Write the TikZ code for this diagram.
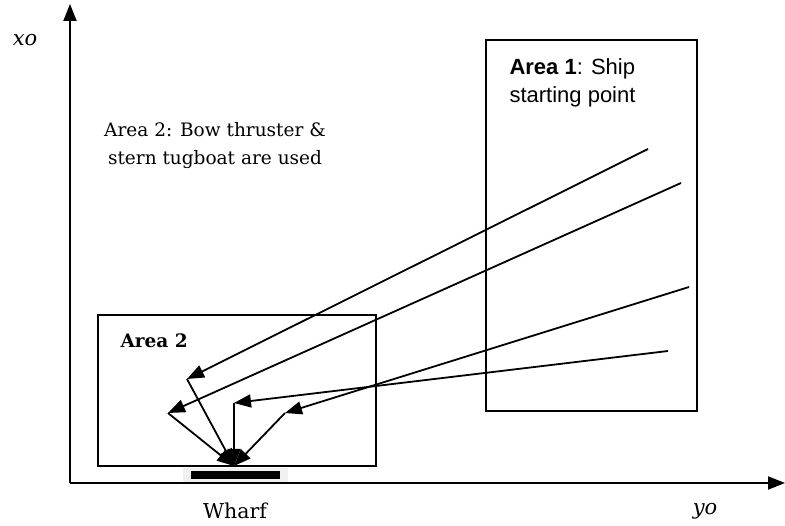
\documentclass[tikz,border=0pt]{standalone}
\usepackage{fontspec}
\setmainfont{DejaVu Serif}
\setsansfont{Liberation Sans}
\usetikzlibrary{arrows.meta}
\begin{document}
\begin{tikzpicture}[x=1pt,y=-1pt,
  frame/.style={draw=black, line width=1.6pt},
  axis/.style={line width=1.8pt, -{Triangle[length=17pt,width=13pt]}},
  traj/.style={line width=1.8pt, -{Triangle[length=17pt,width=13pt]}},
  serif/.style={font=\fontsize{18.5}{28}\selectfont\rmfamily},
  axislabel/.style={font=\fontsize{21}{24}\selectfont\rmfamily\itshape},
  sans/.style={font=\fontsize{22}{28}\selectfont\sffamily}]
\useasboundingbox (0,0) rectangle (785,526);

% wharf plate
\fill[gray!12] (183,468) rectangle (288,483);
\fill[black] (191,471) rectangle (280,479);

% axes
\coordinate (o) at (70,483);
\coordinate (xtop) at (70,4);
\coordinate (yend) at (785,483);
\draw[axis] (o) -- (xtop);
\draw[axis] (o) -- (yend);
\node[axislabel] (xo) at (25,40) {xo};
\node[axislabel] (yo) at (705,511) {yo};
\node[font=\fontsize{20.5}{24}\selectfont\rmfamily] (wharf) at (235,511) {Wharf};

% areas
\draw[frame] (98,315) rectangle (376,466);
\draw[frame] (486,40) rectangle (697,411);
\node[font=\fontsize{18.5}{22}\selectfont\rmfamily\bfseries, anchor=west] (a2) at (117,341) {Area 2};
\node[sans, anchor=north west, align=left] (a1) at (506,55) {\textbf{Area 1}: Ship\\starting point};
\node[serif, align=center] (note) at (215,146) {Area 2: Bow thruster \&\\stern tugboat are used};

% start, turning and berth points
\coordinate (s1) at (648,149);
\coordinate (s2) at (681,183);
\coordinate (s3) at (689,287);
\coordinate (s4) at (668,351);
\coordinate (t1) at (187,379);
\coordinate (t2) at (168,413);
\coordinate (t3) at (234,403);
\coordinate (t4) at (285,413);
\coordinate (h) at (234,466);

% approach legs
\draw[traj] (s1) -- (t1);
\draw[traj] (s2) -- (t2);
\draw[traj] (s4) -- (t3);
\draw[traj] (s3) -- (t4);

% final legs to the berth
\draw[traj] (t1) -- (h);
\draw[traj] (t2) -- (h);
\draw[traj] (t3) -- (h);
\draw[traj] (t4) -- (h);
\end{tikzpicture}
\end{document}
